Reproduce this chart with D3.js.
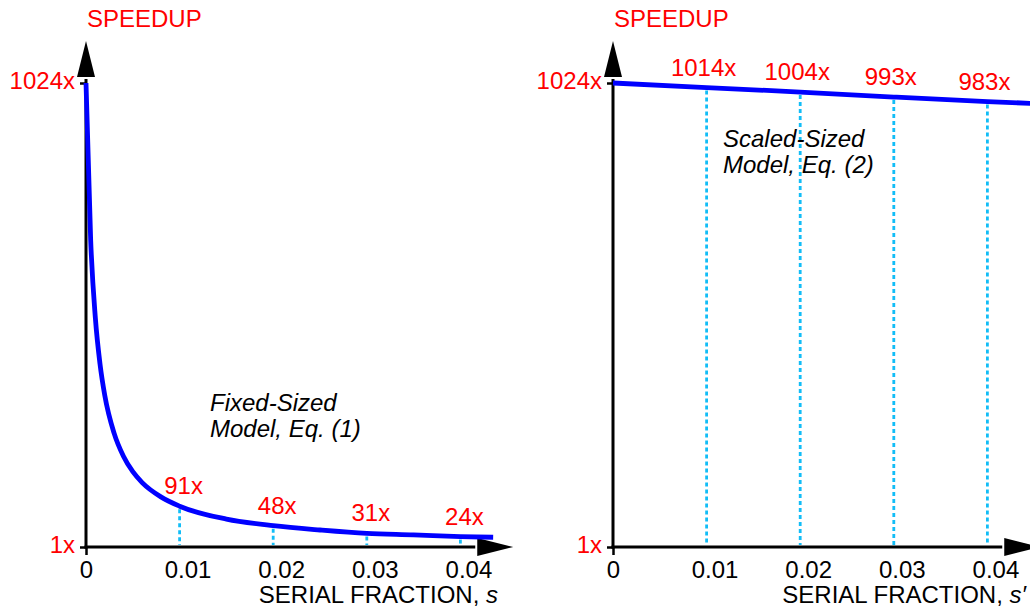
<!DOCTYPE html>
<html>
<head>
<meta charset="utf-8">
<script src="https://cdn.jsdelivr.net/npm/d3@7"></script>
<style>
  body { margin: 0; background: #fff; }
  text { font-family: "Liberation Sans", Arial, Helvetica, sans-serif; }
</style>
</head>
<body>
<div id="chart"></div>
<script>
// fixed-sized model curve
var fixedS = [0, 0.0005, 0.001, 0.0015, 0.002, 0.003, 0.004, 0.005, 0.006, 0.008,
              0.01, 0.015, 0.02, 0.025, 0.03, 0.035, 0.04, 0.0435]
var fixedSpeedup = [1024, 677, 506, 404, 336, 252, 201, 167, 143, 111.5,
                    91, 62.6, 48, 38.5, 31, 27.8, 24, 22.5]

// scaled-sized model curve
var scaledS = [0, 0.01, 0.02, 0.03, 0.04, 0.046]
var scaledSpeedup = [1024, 1014, 1004, 993, 983, 978]

// marked points
var markS = [0.01, 0.02, 0.03, 0.04]
var fixedMarks = [91, 48, 31, 24]
var scaledMarks = [1014, 1004, 993, 983]

var xTicks = [0, 0.01, 0.02, 0.03, 0.04]
var yTicks = [1, 1024]

var width = 1030, height = 609

var svg = d3.select("#chart")
  .append("svg")
    .attr("width", width)
    .attr("height", height)

var red = "#ff0000", blue = "#0000ff", cyan = "#12bdf7"

// shared scales (panel-relative x)
var x = d3.scaleLinear().domain([0, 0.01]).range([0, 93.6])
var y = d3.scaleLinear().domain([1, 1024]).range([547, 83])

drawPanel(86, fixedS, fixedSpeedup, fixedMarks, 4, ["Fixed-Sized", "Model, Eq. (1)"], 124, 411, "s", 412)
drawPanel(613, scaledS, scaledSpeedup, scaledMarks, -3, ["Scaled-Sized", "Model, Eq. (2)"], 110, 147, "s\u2032", 413)

function drawPanel(x0, sVals, spVals, marks, labelDx, note, noteX, noteY, sym, titleEnd) {
  var g = svg.append("g").attr("transform", "translate(" + x0 + ",0)")

  // y axis with ticks 1x / 1024x
  var yAxis = g.append("g")
    .call(d3.axisLeft(y).tickValues(yTicks).tickSize(6).tickFormat(function(d) { return d + "x" }))
  yAxis.select(".domain").remove()
  yAxis.selectAll("line").attr("stroke", "#000").attr("stroke-width", 2.5)
  yAxis.selectAll("text")
    .attr("x", -11)
    .attr("dy", "0.24em")
    .attr("fill", red)
    .style("font-size", "24px")
    .style("font-family", null)

  // x axis tick labels
  var xAxis = g.append("g")
    .attr("transform", "translate(0," + y(1) + ")")
    .call(d3.axisBottom(x).tickValues(xTicks).tickSize(8).tickFormat(function(d) { return d === 0 ? "0" : d3.format(".2f")(d) }))
  xAxis.select(".domain").remove()
  xAxis.selectAll("line")
    .attr("stroke", "#000").attr("stroke-width", 2.5)
    .style("display", function(d) { return d === 0 ? null : "none" })
  xAxis.selectAll("text")
    .attr("y", 31).attr("dy", 0)
    .attr("dx", function(d) { return d === 0 ? 0 : 8 })
    .attr("fill", "#000")
    .style("font-size", "24px")
    .style("font-family", null)

  // axis lines with arrow heads
  var tipY = y(1024) - 42, baseY = y(1024) - 6
  g.append("line")
    .attr("x1", 0).attr("x2", 0).attr("y1", y(1) + 1.5).attr("y2", baseY + 2)
    .attr("stroke", "#000").attr("stroke-width", 3)
  g.append("path")
    .attr("d", "M0," + tipY + "L-9," + baseY + "L9," + baseY + "Z")
    .attr("fill", "#000")

  var baseX = x(0.0418), tipX = baseX + 36
  g.append("line")
    .attr("x1", -1.5).attr("x2", baseX - 2).attr("y1", y(1)).attr("y2", y(1))
    .attr("stroke", "#000").attr("stroke-width", 3)
  g.append("path")
    .attr("d", "M" + tipX + "," + y(1) + "L" + baseX + "," + (y(1) - 9) + "L" + baseX + "," + (y(1) + 9) + "Z")
    .attr("fill", "#000")

  // dotted drop lines
  g.selectAll(".drop")
    .data(markS)
    .enter()
    .append("line")
      .attr("class", "drop")
      .attr("x1", function(d) { return x(d) })
      .attr("x2", function(d) { return x(d) })
      .attr("y1", function(d, i) { return y(marks[i]) + 3 })
      .attr("y2", y(1) - 2)
      .attr("stroke", cyan)
      .attr("stroke-width", 2.8)
      .attr("stroke-dasharray", "4,3")

  // curve
  var pts = sVals.map(function(s, i) { return [s, spVals[i]] })
  g.append("path")
    .datum(pts)
    .attr("fill", "none")
    .attr("stroke", blue)
    .attr("stroke-width", 4.8)
    .attr("d", d3.line()
      .x(function(d) { return x(d[0]) })
      .y(function(d) { return y(d[1]) })
      .curve(d3.curveMonotoneX))

  // speedup labels
  g.selectAll(".mark")
    .data(markS)
    .enter()
    .append("text")
      .attr("class", "mark")
      .attr("x", function(d) { return x(d) + labelDx })
      .attr("y", function(d, i) { return y(marks[i]) - 12 })
      .attr("text-anchor", "middle")
      .attr("fill", red)
      .style("font-size", "24px")
      .text(function(d, i) { return marks[i] + "x" })

  // titles
  g.append("text")
    .attr("x", 1).attr("y", 27)
    .attr("fill", red)
    .style("font-size", "24px")
    .text("SPEEDUP")

  var t = g.append("text")
    .attr("x", titleEnd).attr("y", 603)
    .attr("text-anchor", "end")
    .attr("fill", "#000")
    .style("font-size", "24px")
  t.append("tspan").text("SERIAL FRACTION, ")
  t.append("tspan").style("font-style", "italic").text(sym)

  g.selectAll(".note")
    .data(note)
    .enter()
    .append("text")
      .attr("class", "note")
      .attr("x", noteX)
      .attr("y", function(d, i) { return noteY + i * 26 })
      .attr("fill", "#000")
      .style("font-size", "24px")
      .style("font-style", "italic")
      .text(function(d) { return d })
}
</script>
</body>
</html>
